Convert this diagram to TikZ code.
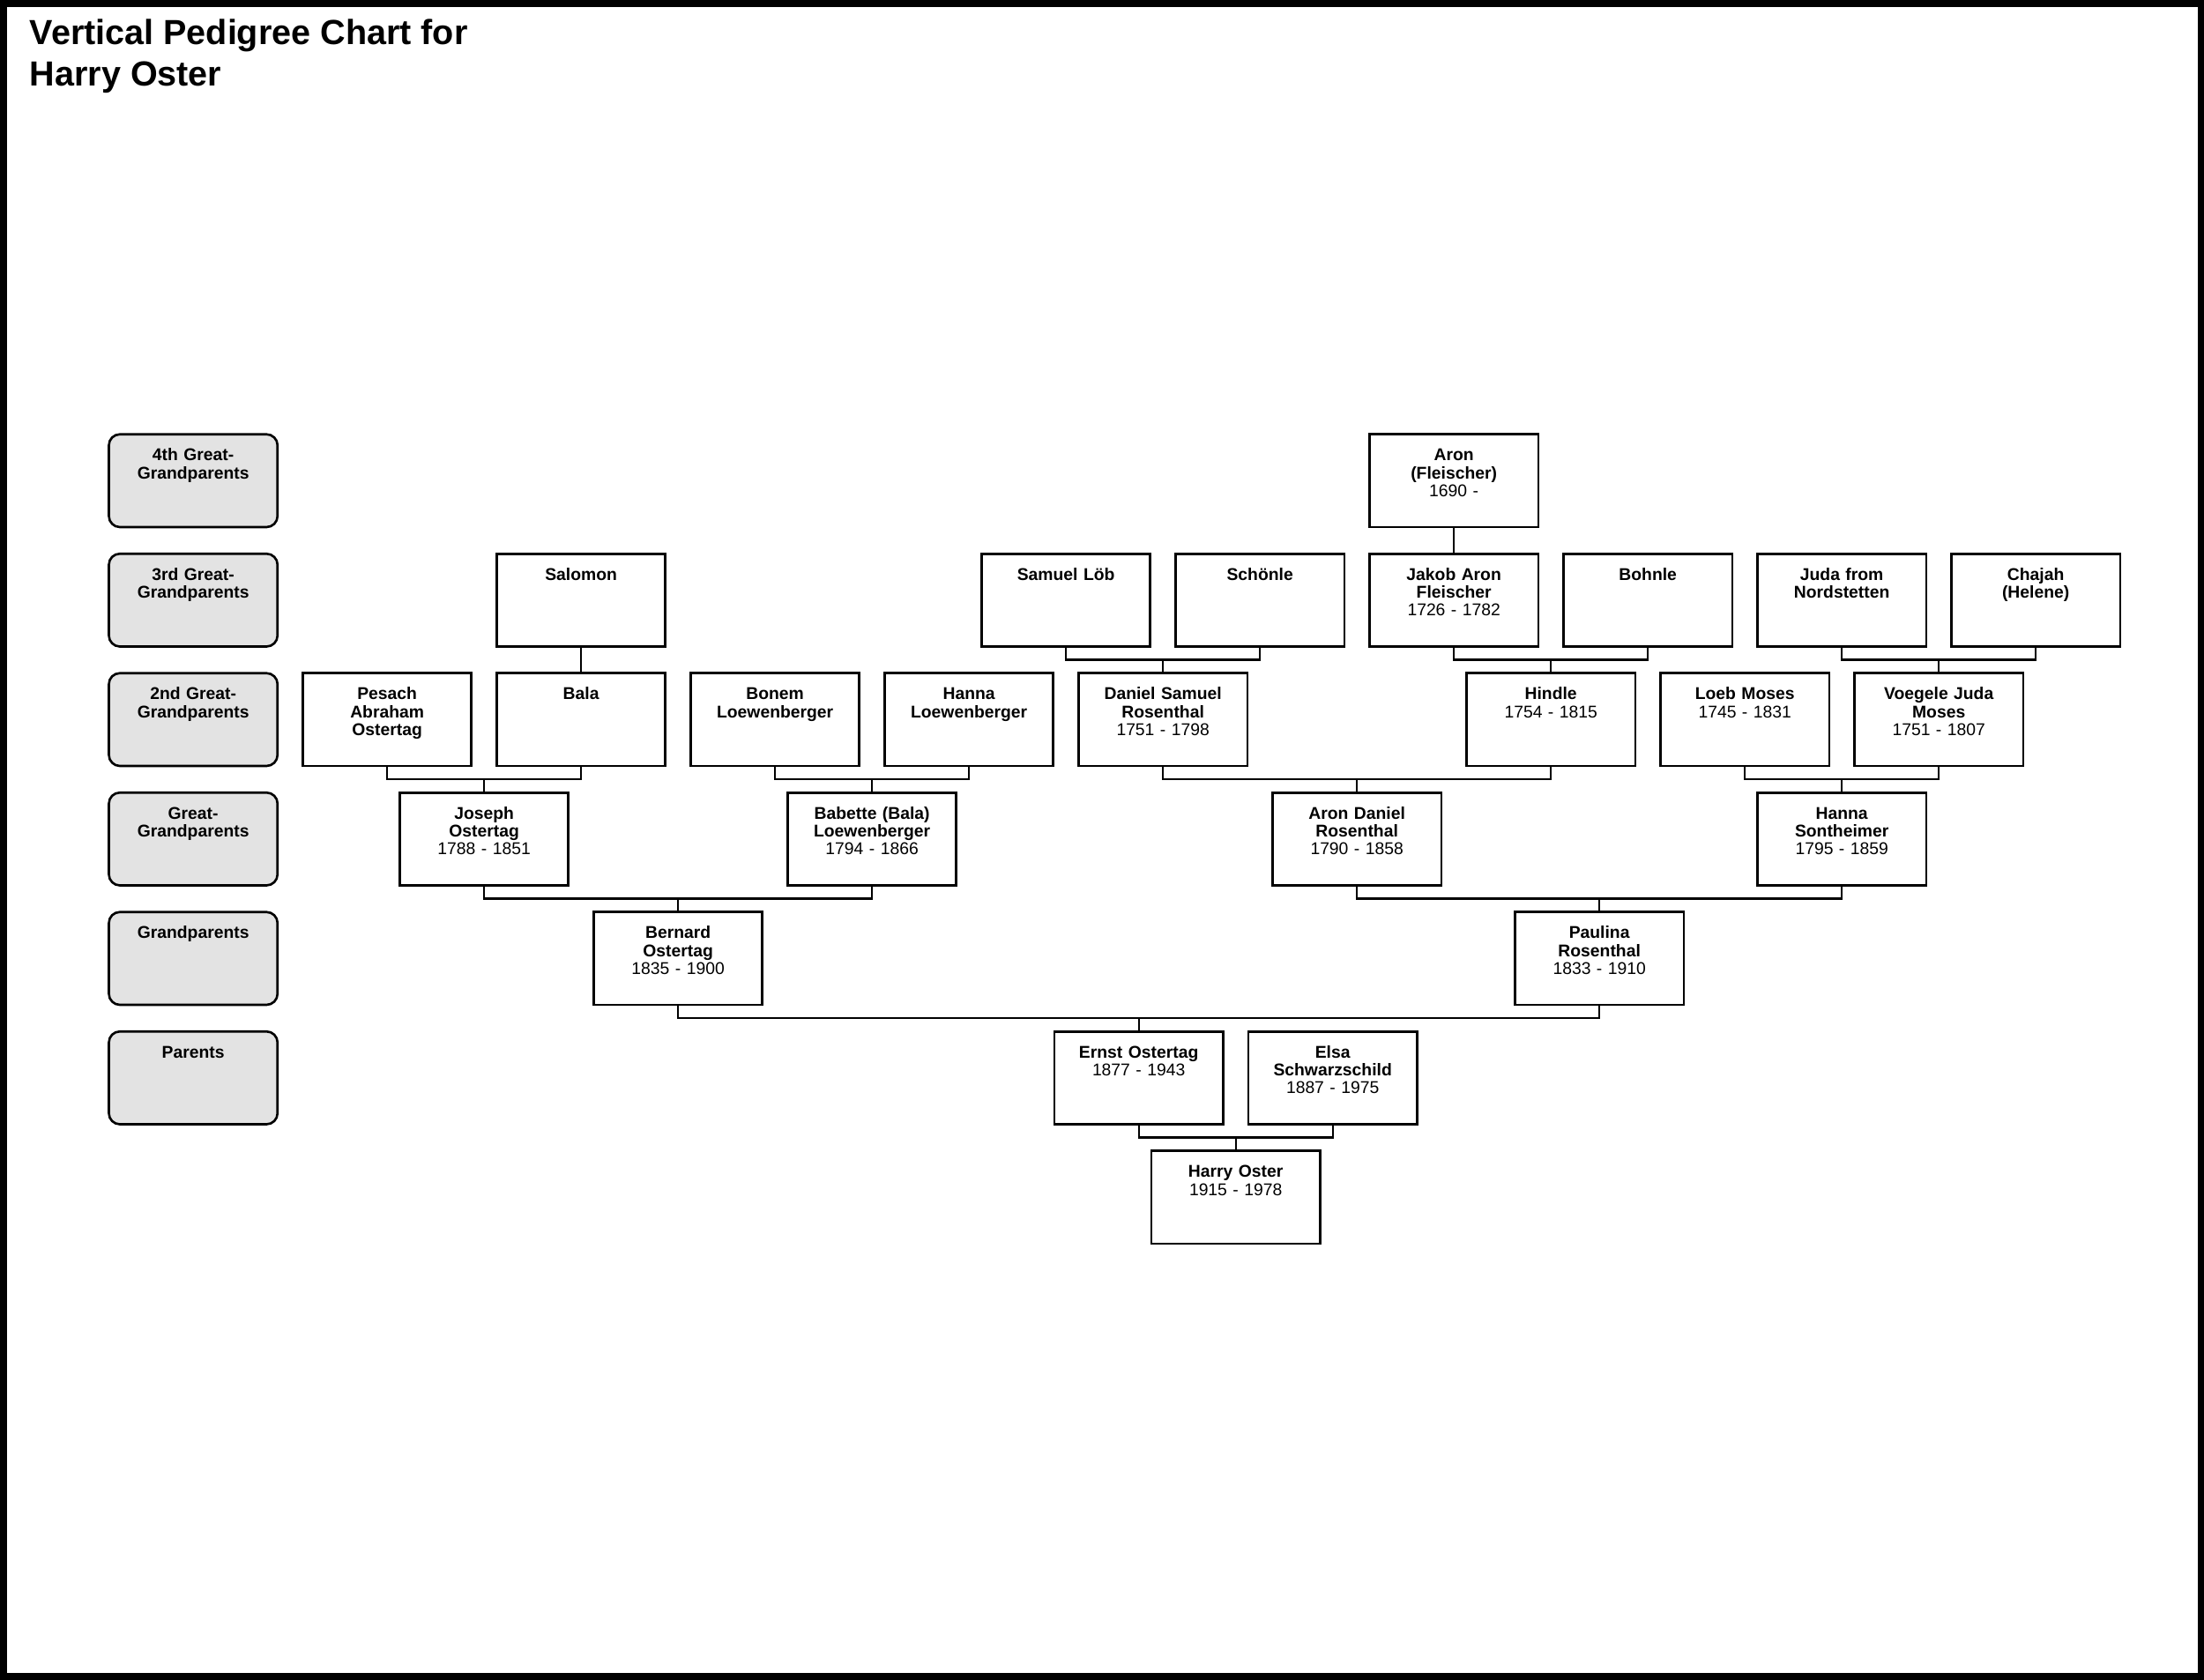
\documentclass[tikz,border=0pt]{standalone}
\usepackage{fontspec}
\setmainfont{Liberation Sans}
\usetikzlibrary{positioning, calc}
\definecolor{rankGray}{HTML}{E3E3E3}
\newcommand{\boxfont}{\fontsize{11pt}{11.6pt}\selectfont}

\begin{document}
\begin{tikzpicture}[font=\boxfont,
    person/.style={rectangle, draw, line width=1.5pt, fill=white,
      minimum width=3.826cm, minimum height=2.106cm, inner sep=0pt, outer sep=0pt,
      text width=3.6cm, align=center, text height=0.6cm, text depth=1.506cm,
      anchor=north},
    rank/.style={person, fill=rankGray, rounded corners=0.25cm,
      font=\boxfont\bfseries},
    link/.style={line width=1.3pt}]
  \useasboundingbox (0,0) rectangle (50,-38.1);
  % frame
  \draw[line width=0.3cm] (0,0) rectangle (50,-38.1);
  % title
  \node[anchor=north west, align=left, inner sep=0pt,
        font=\fontsize{22.5pt}{26.8pt}\selectfont\bfseries]
        (title) at (0.67,-0.42) {Vertical Pedigree Chart for\\Harry Oster};

  \begin{scope}[shift={(4.383,-9.854)}, x=2.2cm, y=-2.71cm]
    % generation labels
    \node[rank] (gen4) at (0,0) {4th Great-\\Grandparents};
    \node[rank] (gen3) at (0,1) {3rd Great-\\Grandparents};
    \node[rank] (gen2) at (0,2) {2nd Great-\\Grandparents};
    \node[rank] (gen1) at (0,3) {Great-\\Grandparents};
    \node[rank] (gen0) at (0,4) {Grandparents};
    \node[rank] (genp) at (0,5) {Parents};
    % 4th great-grandparents
    \node[person] (aron) at (13,0) {\textbf{Aron\\(Fleischer)}\\1690 -};
    % 3rd great-grandparents
    \node[person] (salomon) at (4,1) {\textbf{Salomon}};
    \node[person] (samuelloeb) at (9,1) {\textbf{Samuel Löb}};
    \node[person] (schoenle) at (11,1) {\textbf{Schönle}};
    \node[person] (jakob) at (13,1) {\textbf{Jakob Aron\\Fleischer}\\1726 - 1782};
    \node[person] (bohnle) at (15,1) {\textbf{Bohnle}};
    \node[person] (juda) at (17,1) {\textbf{Juda from\\Nordstetten}};
    \node[person] (chajah) at (19,1) {\textbf{Chajah\\(Helene)}};
    % 2nd great-grandparents
    \node[person] (pesach) at (2,2) {\textbf{Pesach\\Abraham\\Ostertag}};
    \node[person] (bala) at (4,2) {\textbf{Bala}};
    \node[person] (bonem) at (6,2) {\textbf{Bonem\\Loewenberger}};
    \node[person] (hannal) at (8,2) {\textbf{Hanna\\Loewenberger}};
    \node[person] (danielsamuel) at (10,2) {\textbf{Daniel Samuel\\Rosenthal}\\1751 - 1798};
    \node[person] (hindle) at (14,2) {\textbf{Hindle}\\1754 - 1815};
    \node[person] (loeb) at (16,2) {\textbf{Loeb Moses}\\1745 - 1831};
    \node[person] (voegele) at (18,2) {\textbf{Voegele Juda\\Moses}\\1751 - 1807};
    % great-grandparents
    \node[person] (joseph) at (3,3) {\textbf{Joseph\\Ostertag}\\1788 - 1851};
    \node[person] (babette) at (7,3) {\textbf{Babette (Bala)\\Loewenberger}\\1794 - 1866};
    \node[person] (arondaniel) at (12,3) {\textbf{Aron Daniel\\Rosenthal}\\1790 - 1858};
    \node[person] (hannas) at (17,3) {\textbf{Hanna\\Sontheimer}\\1795 - 1859};
    % grandparents
    \node[person] (bernard) at (5,4) {\textbf{Bernard\\Ostertag}\\1835 - 1900};
    \node[person] (paulina) at (14.5,4) {\textbf{Paulina\\Rosenthal}\\1833 - 1910};
    % parents and root
    \node[person] (ernst) at (9.75,5) {\textbf{Ernst Ostertag}\\1877 - 1943};
    \node[person] (elsa) at (11.75,5) {\textbf{Elsa\\Schwarzschild}\\1887 - 1975};
    \node[person] (harry) at (10.75,6) {\textbf{Harry Oster}\\1915 - 1978};
  \end{scope}

  % connectors
  \draw[link] (aron) -- (jakob);
  \draw[link] (salomon) -- (bala);
  \draw[link] (samuelloeb.south) -- ++(0,-0.302) -| (schoenle.south) (danielsamuel.north) -- ++(0,0.302);
  \draw[link] (jakob.south) -- ++(0,-0.302) -| (bohnle.south) (hindle.north) -- ++(0,0.302);
  \draw[link] (juda.south) -- ++(0,-0.302) -| (chajah.south) (voegele.north) -- ++(0,0.302);
  \draw[link] (pesach.south) -- ++(0,-0.302) -| (bala.south) (joseph.north) -- ++(0,0.302);
  \draw[link] (bonem.south) -- ++(0,-0.302) -| (hannal.south) (babette.north) -- ++(0,0.302);
  \draw[link] (danielsamuel.south) -- ++(0,-0.302) -| (hindle.south) (arondaniel.north) -- ++(0,0.302);
  \draw[link] (loeb.south) -- ++(0,-0.302) -| (voegele.south) (hannas.north) -- ++(0,0.302);
  \draw[link] (joseph.south) -- ++(0,-0.302) -| (babette.south) (bernard.north) -- ++(0,0.302);
  \draw[link] (arondaniel.south) -- ++(0,-0.302) -| (hannas.south) (paulina.north) -- ++(0,0.302);
  \draw[link] (bernard.south) -- ++(0,-0.302) -| (paulina.south) (ernst.north) -- ++(0,0.302);
  \draw[link] (ernst.south) -- ++(0,-0.302) -| (elsa.south) (harry.north) -- ++(0,0.302);
\end{tikzpicture}
\end{document}
